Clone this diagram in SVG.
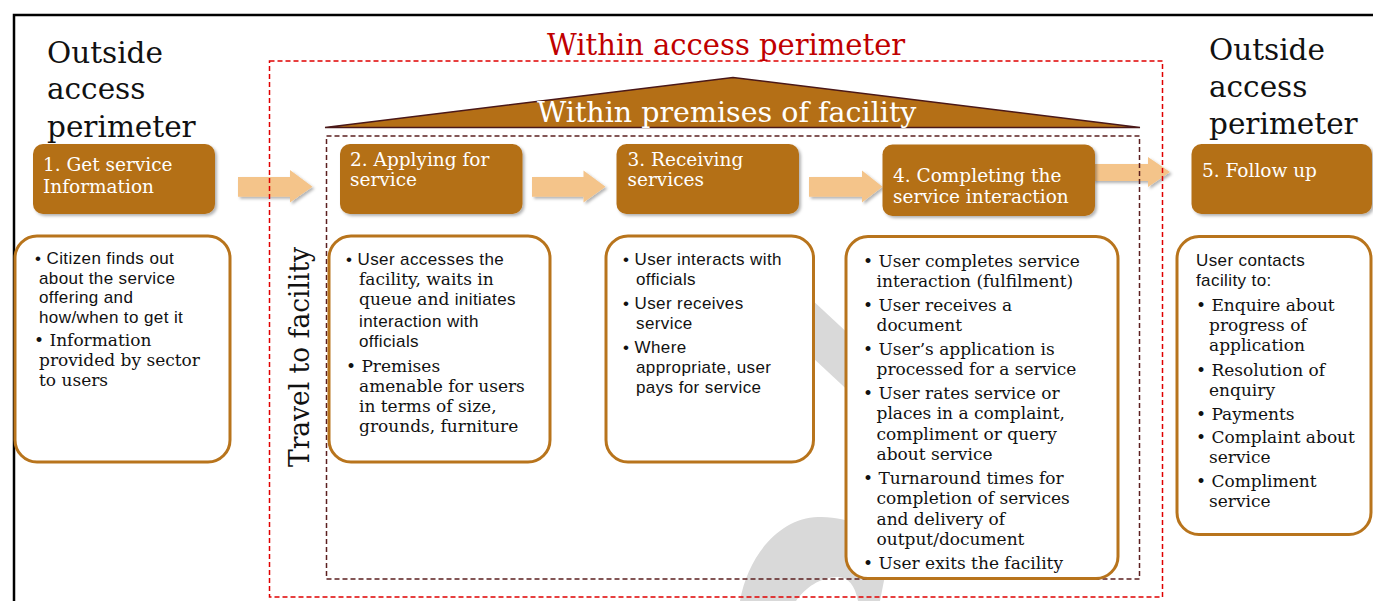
<svg xmlns="http://www.w3.org/2000/svg" width="1373" height="601" viewBox="0 0 1373 601">
<defs>
<filter id="sh" x="-10%" y="-10%" width="130%" height="130%">
<feDropShadow dx="2" dy="2" stdDeviation="1.5" flood-color="#000" flood-opacity="0.3"/>
</filter>
<style>
.serif{font-family:"DejaVu Serif","Liberation Serif",serif;}
.sans{font-family:"Liberation Sans",Arial,sans-serif;letter-spacing:0.4px;}
.hdr{fill:#b46f16;filter:url(#sh);}
.htxt{font-family:"DejaVu Serif","Liberation Serif",serif;font-size:18.5px;fill:#fff;}
.det{fill:#fff;stroke:#b8741c;stroke-width:3;}
.body{font-size:17px;fill:#111;}
.arrow{fill:#f4c48a;filter:url(#sh);}
.title{font-family:"DejaVu Serif","Liberation Serif",serif;font-size:29.5px;fill:#111;}
</style>
</defs>
<rect width="1373" height="601" fill="#fff"/>
<path d="M14 601 V15 H1373" fill="none" stroke="#000" stroke-width="2.5"/>

<g id="watermark" fill="#d9d9d9">
<line x1="760" y1="280" x2="905" y2="415" stroke="#d9d9d9" stroke-width="42"/>
<path d="M740 601 C748 555 780 518 818 517 C850 516 875 530 890 550 L880 601 L858 601 C855 585 848 577 838 577 C820 577 805 588 796 601 Z"/>
</g>

<g id="connectors">
<path class="arrow" d="M238 177 H290 V170 L312.5 186.7 L290 202.5 V196.7 H238 Z"/>
<path class="arrow" d="M532 177 H583.5 V170.5 L605.5 186.7 L583.5 202.5 V196.7 H532 Z"/>
<path class="arrow" d="M809 177 H862 V170.5 L882.5 186.7 L862 202.5 V196.7 H809 Z"/>
<path class="arrow" d="M1093 164 H1148 V157 L1170 172 L1148 187 V181 H1093 Z"/>
</g>

<g id="access-perimeter">
<rect x="269.5" y="61" width="893" height="536" fill="none" stroke="#e00000" stroke-width="1.5" stroke-dasharray="5 3"/>
<text x="547" y="55" class="serif" font-size="29" fill="#c00000">Within access perimeter</text>
</g>

<g id="premises">
<polygon points="325,127.5 733,77.5 1140,127.5" fill="#b46f16" stroke="#4a1818" stroke-width="1.5"/>
<text x="537" y="122" class="serif" font-size="28.5" fill="#fff">Within premises of facility</text>
<rect x="326.5" y="136" width="813" height="443" fill="none" stroke="#5b1f1f" stroke-width="1.5" stroke-dasharray="5 3"/>
</g>

<g id="outside-left">
<text class="title" x="47" y="63">Outside</text>
<text class="title" x="47" y="99">access</text>
<text class="title" x="47" y="136.5">perimeter</text>
</g>
<g id="outside-right">
<text class="title" x="1209" y="59.5">Outside</text>
<text class="title" x="1209" y="96.5">access</text>
<text class="title" x="1209" y="133.5">perimeter</text>
</g>

<g id="travel">
<text class="serif" font-size="27" fill="#111" transform="translate(309,467) rotate(-90)" textLength="220" lengthAdjust="spacingAndGlyphs">Travel to facility</text>
</g>

<g id="step1">
<rect class="hdr" x="33" y="144" width="182" height="70" rx="10"/>
<text class="htxt" x="43" y="170.5">1. Get service</text>
<text class="htxt" x="43" y="192.5">Information</text>
</g>
<g id="step2">
<rect class="hdr" x="340" y="144" width="182.5" height="70" rx="10"/>
<text class="htxt" x="350" y="165.5">2. Applying for</text>
<text class="htxt" x="350" y="186">service</text>
</g>
<g id="step3">
<rect class="hdr" x="616.5" y="144" width="182.5" height="70" rx="10"/>
<text class="htxt" x="627.5" y="165.5">3. Receiving</text>
<text class="htxt" x="627.5" y="186">services</text>
</g>
<g id="step4">
<rect class="hdr" x="882.5" y="144.5" width="212.5" height="71.5" rx="10"/>
<text class="htxt" x="893" y="181.5" font-size="19">4. Completing the</text>
<text class="htxt" x="893" y="202.5" font-size="19">service interaction</text>
</g>
<g id="step5">
<rect class="hdr" x="1191.5" y="144" width="180.5" height="70" rx="10"/>
<text class="htxt" x="1202" y="176.5">5. Follow up</text>
</g>

<g id="detail1">
<rect class="det" x="15" y="236" width="215" height="226" rx="22"/>
<text class="sans body" font-size="16.5">
<tspan x="35" y="263.5">• Citizen finds out</tspan>
<tspan x="39" y="283.5">about the service</tspan>
<tspan x="39" y="303">offering and</tspan>
<tspan x="39" y="322.5">how/when to get it</tspan>
</text>
<text class="serif body" font-size="17.5">
<tspan x="34" y="346">• Information</tspan>
<tspan x="39" y="366">provided by sector</tspan>
<tspan x="39" y="385.5">to users</tspan>
</text>
</g>

<g id="detail2">
<rect class="det" x="329" y="236" width="221" height="226" rx="22"/>
<text class="body">
<tspan class="sans" x="346" y="265">• User accesses the</tspan>
<tspan class="serif" x="359" y="285">facility, waits in</tspan>
<tspan class="serif" x="359" y="305">queue and </tspan><tspan class="sans">initiates</tspan>
<tspan class="sans" x="359" y="326.5">interaction with</tspan>
<tspan class="sans" x="359" y="346.5">officials</tspan>
<tspan class="serif" x="346" y="371.5">• Premises</tspan>
<tspan class="serif" x="359" y="391.5">amenable for users</tspan>
<tspan class="serif" x="359" y="411.5">in terms of size,</tspan>
<tspan class="serif" x="359" y="431.5">grounds, furniture</tspan>
</text>
</g>

<g id="detail3">
<rect class="det" x="606" y="236" width="207.5" height="226" rx="22"/>
<text class="sans body" font-size="17.2">
<tspan x="623" y="265">• User interacts with</tspan>
<tspan x="636" y="285">officials</tspan>
<tspan x="623" y="309">• User receives</tspan>
<tspan x="636" y="329">service</tspan>
<tspan x="623" y="353">• Where</tspan>
<tspan x="636" y="373">appropriate, user</tspan>
<tspan x="636" y="393">pays for service</tspan>
</text>
</g>

<g id="detail4">
<rect class="det" x="846" y="236.5" width="272" height="342" rx="22"/>
<text class="serif body" font-size="17.3">
<tspan x="863" y="267">• User completes service</tspan>
<tspan x="876.5" y="287">interaction (fulfilment)</tspan>
<tspan x="863" y="311">• User receives a</tspan>
<tspan x="876.5" y="331">document</tspan>
<tspan x="863" y="355">• User’s application is</tspan>
<tspan x="876.5" y="375">processed for a service</tspan>
<tspan x="863" y="398.5">• User rates service or</tspan>
<tspan x="876.5" y="419">places in a complaint,</tspan>
<tspan x="876.5" y="440">compliment or query</tspan>
<tspan x="876.5" y="460">about service</tspan>
<tspan x="863" y="484">• Turnaround times for</tspan>
<tspan x="876.5" y="504">completion of services</tspan>
<tspan x="876.5" y="525">and delivery of</tspan>
<tspan x="876.5" y="545">output/document</tspan>
<tspan x="863" y="568.5">• User exits the facility</tspan>
</text>
</g>

<g id="detail5">
<rect class="det" x="1177" y="236.5" width="194" height="298" rx="22"/>
<text class="sans body" font-size="17.2">
<tspan x="1196" y="266">User contacts</tspan>
<tspan x="1196" y="286">facility to:</tspan>
</text>
<text class="serif body" font-size="18">
<tspan x="1196" y="311">• Enquire about</tspan>
<tspan x="1209" y="331">progress of</tspan>
<tspan x="1209" y="351">application</tspan>
<tspan x="1196" y="375.5">• Resolution of</tspan>
<tspan x="1209" y="395.5">enquiry</tspan>
<tspan x="1196" y="419.5">• Payments</tspan>
<tspan x="1196" y="442.5">• Complaint about</tspan>
<tspan x="1209" y="463">service</tspan>
<tspan x="1196" y="486.5">• Compliment</tspan>
<tspan x="1209" y="506.5">service</tspan>
</text>
</g>
</svg>
